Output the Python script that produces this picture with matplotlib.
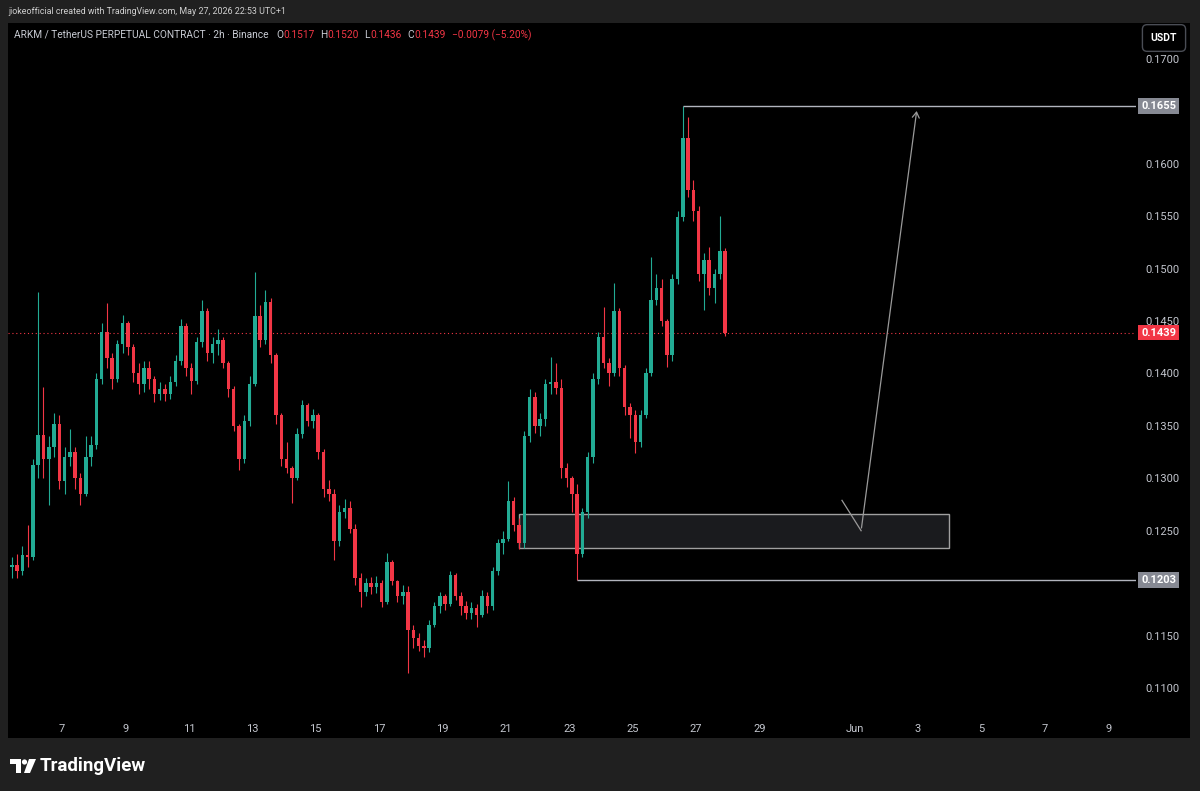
import numpy as np
import pandas as pd
import matplotlib
matplotlib.use("Agg")
import matplotlib.pyplot as plt
import matplotlib.dates as mdates
from matplotlib.patches import Rectangle, Polygon, Circle, FancyArrowPatch

plt.rcParams['font.family'] = ['Roboto', 'DejaVu Sans']

# ARKM/USDT perpetual, candles (4h buckets)
first_open = 0.1215
first_candle = '2026-05-05 08:00'
close = [
    0.1217, 0.1212, 0.1227, 0.1225, 0.1313, 0.1341, 0.1318, 0.1330, 0.1352, 0.1297,
    0.1320, 0.1325, 0.1300, 0.1285, 0.1320, 0.1332, 0.1395, 0.1440, 0.1415, 0.1395,
    0.1428, 0.1448, 0.1425, 0.1400, 0.1390, 0.1405, 0.1395, 0.1380, 0.1385, 0.1380,
    0.1392, 0.1412, 0.1445, 0.1405, 0.1393, 0.1430, 0.1460, 0.1420, 0.1428, 0.1432,
    0.1410, 0.1385, 0.1350, 0.1318, 0.1355, 0.1390, 0.1455, 0.1432, 0.1468, 0.1418,
    0.1360, 0.1318, 0.1310, 0.1300, 0.1342, 0.1370, 0.1355, 0.1360, 0.1325, 0.1290,
    0.1285, 0.1240, 0.1268, 0.1272, 0.1252, 0.1205, 0.1192, 0.1200, 0.1196, 0.1200,
    0.1182, 0.1220, 0.1202, 0.1188, 0.1192, 0.1155, 0.1148, 0.1140, 0.1138, 0.1160,
    0.1178, 0.1188, 0.1180, 0.1208, 0.1188, 0.1178, 0.1172, 0.1176, 0.1170, 0.1188,
    0.1178, 0.1212, 0.1238, 0.1242, 0.1278, 0.1255, 0.1238, 0.1340, 0.1378, 0.1350,
    0.1357, 0.1390, 0.1392, 0.1386, 0.1310, 0.1300, 0.1285, 0.1228, 0.1268, 0.1320,
    0.1395, 0.1435, 0.1410, 0.1400, 0.1460, 0.1405, 0.1368, 0.1360, 0.1335, 0.1360,
    0.1400, 0.1470, 0.1482, 0.1450, 0.1418, 0.1490, 0.1549, 0.1625, 0.1575, 0.1555,
    0.1495, 0.1508, 0.1482, 0.1495, 0.1517, 0.1439]
high = [
    0.1225, 0.1228, 0.1235, 0.1255, 0.1318, 0.1478, 0.1387, 0.1340, 0.1362, 0.1360,
    0.1330, 0.1347, 0.1330, 0.1305, 0.1340, 0.1340, 0.1400, 0.1448, 0.1467, 0.1420,
    0.1432, 0.1456, 0.1450, 0.1428, 0.1410, 0.1412, 0.1412, 0.1398, 0.1392, 0.1390,
    0.1398, 0.1418, 0.1452, 0.1448, 0.1410, 0.1435, 0.1470, 0.1462, 0.1435, 0.1442,
    0.1435, 0.1412, 0.1388, 0.1352, 0.1360, 0.1398, 0.1497, 0.1465, 0.1480, 0.1472,
    0.1420, 0.1362, 0.1335, 0.1312, 0.1348, 0.1375, 0.1372, 0.1366, 0.1362, 0.1328,
    0.1298, 0.1290, 0.1275, 0.1280, 0.1278, 0.1256, 0.1210, 0.1205, 0.1206, 0.1207,
    0.1203, 0.1229, 0.1222, 0.1203, 0.1198, 0.1197, 0.1160, 0.1152, 0.1146, 0.1165,
    0.1182, 0.1192, 0.1190, 0.1212, 0.1210, 0.1192, 0.1183, 0.1182, 0.1180, 0.1193,
    0.1192, 0.1215, 0.1242, 0.1250, 0.1297, 0.1282, 0.1262, 0.1345, 0.1385, 0.1382,
    0.1362, 0.1395, 0.1416, 0.1410, 0.1395, 0.1315, 0.1302, 0.1295, 0.1272, 0.1325,
    0.1400, 0.1440, 0.1463, 0.1415, 0.1486, 0.1462, 0.1408, 0.1372, 0.1365, 0.1365,
    0.1405, 0.1511, 0.1495, 0.1490, 0.1452, 0.1495, 0.1555, 0.1655, 0.1645, 0.1585,
    0.1560, 0.1515, 0.1521, 0.1500, 0.1550, 0.1520]
low = [
    0.1205, 0.1205, 0.1208, 0.1215, 0.1222, 0.1300, 0.1300, 0.1275, 0.1320, 0.1290,
    0.1285, 0.1312, 0.1290, 0.1275, 0.1283, 0.1312, 0.1328, 0.1390, 0.1405, 0.1385,
    0.1392, 0.1420, 0.1418, 0.1392, 0.1380, 0.1382, 0.1385, 0.1373, 0.1375, 0.1374,
    0.1376, 0.1388, 0.1408, 0.1398, 0.1380, 0.1390, 0.1425, 0.1412, 0.1410, 0.1418,
    0.1405, 0.1378, 0.1345, 0.1308, 0.1315, 0.1350, 0.1388, 0.1425, 0.1428, 0.1410,
    0.1352, 0.1312, 0.1305, 0.1276, 0.1298, 0.1338, 0.1350, 0.1348, 0.1318, 0.1282,
    0.1278, 0.1222, 0.1235, 0.1262, 0.1248, 0.1198, 0.1177, 0.1188, 0.1190, 0.1191,
    0.1177, 0.1180, 0.1198, 0.1182, 0.1180, 0.1114, 0.1138, 0.1135, 0.1130, 0.1134,
    0.1158, 0.1172, 0.1174, 0.1178, 0.1184, 0.1170, 0.1166, 0.1166, 0.1158, 0.1168,
    0.1172, 0.1174, 0.1208, 0.1228, 0.1240, 0.1250, 0.1233, 0.1234, 0.1335, 0.1343,
    0.1340, 0.1350, 0.1380, 0.1380, 0.1300, 0.1292, 0.1268, 0.1203, 0.1225, 0.1262,
    0.1315, 0.1390, 0.1405, 0.1388, 0.1398, 0.1398, 0.1360, 0.1338, 0.1324, 0.1330,
    0.1358, 0.1398, 0.1465, 0.1445, 0.1406, 0.1412, 0.1485, 0.1545, 0.1568, 0.1545,
    0.1488, 0.1461, 0.1475, 0.1467, 0.1490, 0.1436]

# drawings on the chart
swing_high, swing_high_time = 0.1655, '2026-05-26 14:00'
swing_low, swing_low_time = 0.1203, '2026-05-23 06:00'
zone_start, zone_end = '2026-05-21 10:00', '2026-06-03 23:30'
zone_low, zone_high = 0.1234, 0.1266
path_times = ['2026-05-31 14:30', '2026-06-01 05:00', '2026-06-02 23:20']
path_prices = [0.1279, 0.1250, 0.1653]
last_price = 0.1439

date_ticks = ['2026-05-07', '2026-05-09', '2026-05-11', '2026-05-13', '2026-05-15',
              '2026-05-17', '2026-05-19', '2026-05-21', '2026-05-23', '2026-05-25',
              '2026-05-27', '2026-05-29', '2026-06-01', '2026-06-03', '2026-06-05',
              '2026-06-07', '2026-06-09']
date_labels = ['7', '9', '11', '13', '15', '17', '19', '21', '23', '25', '27', '29',
               'Jun', '3', '5', '7', '9']
price_ticks = [0.1100, 0.1150, 0.1250, 0.1300, 0.1350, 0.1400, 0.1450, 0.1500,
               0.1550, 0.1600, 0.1700]

UP, DOWN = '#22ab94', '#f23645'
W, H = 1200, 791

fig = plt.figure(figsize=(12, 7.91), dpi=100, facecolor='#202020')

# pixel overlay for frame, header and logo
ov = fig.add_axes([0, 0, 1, 1], zorder=0)
ov.set_xlim(0, W)
ov.set_ylim(H, 0)
ov.axis('off')
ov.add_patch(Rectangle((8, 23), 1182, 715, facecolor='black', edgecolor='none'))

ax = fig.add_axes([8 / W, (H - 712) / H, 1128 / W, (712 - 23) / H], zorder=1)
ax.set_facecolor('none')

opens = np.array([first_open] + close[:-1])
closes = np.array(close)
t = pd.date_range(first_candle, periods=len(close), freq='4h') + pd.Timedelta(hours=2)
x = mdates.date2num(t)
cols = np.where(closes >= opens, UP, DOWN)
ax.vlines(x, low, high, colors=cols, lw=0.8, zorder=3)
body = np.maximum(np.abs(closes - opens), 0.00006)
ax.bar(x, body, bottom=np.minimum(opens, closes), width=0.11, color=cols,
       linewidth=0, zorder=4)

ax.set_xlim(mdates.date2num(pd.Timestamp('2026-05-05 07:08')),
            mdates.date2num(pd.Timestamp('2026-06-09 21:06')))
ax.set_ylim(0.10771, 0.17343)

# last price dotted line
ax.axhline(last_price, color=DOWN, lw=0.8, ls=(0, (1, 2.5)), zorder=2)

# horizontal levels
x_right = ax.get_xlim()[1]
for lvl, tm in [(swing_high, swing_high_time), (swing_low, swing_low_time)]:
    ax.hlines(lvl, mdates.date2num(pd.Timestamp(tm)), x_right, color='#b2b5be', lw=1, zorder=5)

# demand zone
zs = mdates.date2num(pd.Timestamp(zone_start))
ze = mdates.date2num(pd.Timestamp(zone_end))
ax.add_patch(Rectangle((zs, zone_low), ze - zs, zone_high - zone_low,
                       facecolor='#1a1b1e', edgecolor='#a0a0a0', lw=1, zorder=2))

# projected path
px = mdates.date2num(pd.to_datetime(path_times))
ax.plot(px[:2], path_prices[:2], color='#9a9a9a', lw=0.9, zorder=6)
ax.add_patch(FancyArrowPatch((px[1], path_prices[1]), (px[2], path_prices[2]),
                             arrowstyle='->,head_length=4,head_width=2.5',
                             color='#9a9a9a', lw=0.9, zorder=6))

# axes styling
for s in ax.spines.values():
    s.set_visible(False)
ax.set_xticks(mdates.date2num(pd.to_datetime(date_ticks)))
ax.set_xticklabels(date_labels)
ax.tick_params(axis='x', length=0, pad=9, colors='#c3c6ce', labelsize=8)
ax.yaxis.tick_right()
ax.set_yticks(price_ticks)
ax.set_yticklabels(['%.4f' % p for p in price_ticks])
ax.tick_params(axis='y', length=0, pad=7, colors='#c3c6ce', labelsize=8)

# price labels on the scale
yt = ax.get_yaxis_transform()
for lvl, bg in [(swing_high, '#868993'), (swing_low, '#868993'), (last_price, DOWN)]:
    ax.text(1.0045, lvl, '%.4f' % lvl, transform=yt, ha='left', va='center',
            color='white', fontsize=8, fontweight='bold', clip_on=False, zorder=10,
            bbox=dict(boxstyle='square,pad=0.25', facecolor=bg, edgecolor='none'))

# header texts
ov.text(8, 12, 'jiokeofficial created with TradingView.com, May 27, 2026 22:53 UTC+1',
        color='#d0d0d0', fontsize=6.4, va='center', ha='left')
hy = 35
ov.text(14, hy, 'ARKM / TetherUS PERPETUAL CONTRACT · 2h · Binance', color='#c8cbd3',
        fontsize=7.3, va='center', ha='left', zorder=5)
for xx, s, c in [(276, 'O', '#c8cbd3'), (283, '0.1517', DOWN), (320, 'H', '#c8cbd3'),
                 (327, '0.1520', DOWN), (364, 'L', '#c8cbd3'), (370, '0.1436', DOWN),
                 (407, 'C', '#c8cbd3'), (414, '0.1439', DOWN), (452, '−0.0079 (−5.20%)', DOWN)]:
    ov.text(xx, hy, s, color=c, fontsize=7.3, va='center', ha='left', zorder=5)

# currency box
ov.text(1164, 38, 'USDT', color='white', fontsize=7.5, fontweight='bold', ha='center',
        va='center', zorder=5,
        bbox=dict(boxstyle='round,pad=0.8,rounding_size=0.45', facecolor='black',
                  edgecolor='#4a4d55', lw=1))

# TradingView logo
ov.add_patch(Polygon([(10, 759), (21, 759), (21, 773), (16, 773), (16, 764), (10, 764)],
                     closed=True, facecolor='white', edgecolor='none'))
ov.add_patch(Circle((24.5, 762), 2.6, facecolor='white', edgecolor='none'))
ov.add_patch(Polygon([(29, 759), (36, 759), (30, 773), (24, 773)], closed=True,
                     facecolor='white', edgecolor='none'))
ov.text(40, 766, 'TradingView', color='white', fontsize=13.5, fontweight='bold',
        va='center', ha='left')

fig.savefig('out.png', dpi=100, facecolor=fig.get_facecolor())
